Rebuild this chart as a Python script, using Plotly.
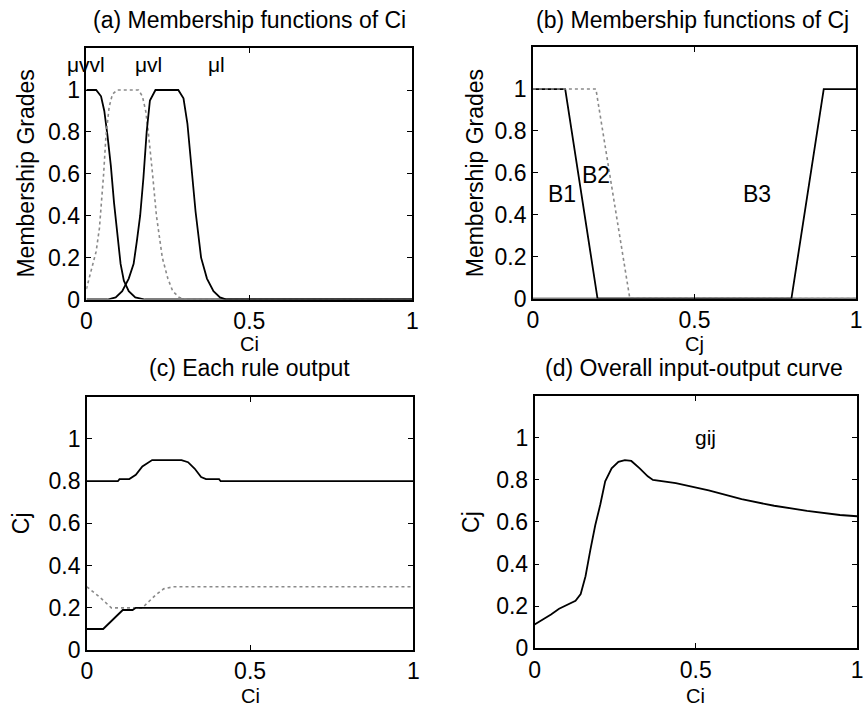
import plotly.graph_objects as go

# ---------------- data ----------------
# (a) membership functions of Ci
a_vvl_x = [0, 0.03, 0.045, 0.055, 0.065, 0.075, 0.085, 0.095, 0.105, 0.115, 0.13, 0.15, 0.18, 1.0]
a_vvl_y = [1, 1, 0.97, 0.9, 0.78, 0.64, 0.46, 0.3, 0.17, 0.09, 0.04, 0.01, 0, 0]
a_vl_x = [0, 0.01, 0.02, 0.03, 0.04, 0.047, 0.053, 0.06, 0.07, 0.08, 0.095,
          0.16, 0.172, 0.182, 0.19, 0.203, 0.215, 0.233, 0.25, 0.265, 0.285, 0.31, 1.0]
a_vl_y = [0.05, 0.11, 0.17, 0.23, 0.34, 0.46, 0.6, 0.78, 0.92, 0.98, 1,
          1, 0.97, 0.9, 0.8, 0.6, 0.4, 0.2, 0.1, 0.04, 0.01, 0, 0]
a_l_x = [0, 0.065, 0.09, 0.11, 0.13, 0.145, 0.155, 0.165, 0.175, 0.185, 0.195, 0.212,
         0.282, 0.298, 0.31, 0.322, 0.335, 0.352, 0.37, 0.39, 0.41, 0.43, 1.0]
a_l_y = [0, 0, 0.01, 0.04, 0.1, 0.17, 0.28, 0.4, 0.58, 0.8, 0.95, 1,
         1, 0.96, 0.84, 0.62, 0.42, 0.2, 0.1, 0.04, 0.01, 0, 0]
a_labels = ["μvvl", "μvl", "μl"]
a_label_x = [0.0, 0.19, 0.40]
a_label_y = [1.055, 1.055, 1.055]

# (b) membership functions of Cj
b1_x = [0, 0.1, 0.2, 1.0]
b1_y = [1, 1, 0, 0]
b2_x = [0, 0.195, 0.3, 1.0]
b2_y = [1, 1, 0, 0]
b3_x = [0, 0.8, 0.9, 1.0]
b3_y = [0, 0, 1, 1]
b_labels = ["B1", "B2", "B3"]
b_label_x = [0.089, 0.196, 0.695]
b_label_y = [0.5, 0.59, 0.5]

# (c) each rule output
c_top_x = [0, 0.095, 0.1, 0.13, 0.15, 0.17, 0.2, 0.29, 0.31, 0.33, 0.35, 0.365, 0.405, 0.41, 1.0]
c_top_y = [0.8, 0.8, 0.81, 0.81, 0.83, 0.87, 0.9, 0.9, 0.89, 0.86, 0.82, 0.81, 0.81, 0.8, 0.8]
c_mid_x = [0, 0.04, 0.075, 0.17, 0.19, 0.21, 0.235, 0.265, 1.0]
c_mid_y = [0.3, 0.25, 0.2, 0.2, 0.23, 0.26, 0.29, 0.3, 0.3]
c_bot_x = [0, 0.05, 0.11, 0.14, 0.15, 1.0]
c_bot_y = [0.1, 0.1, 0.19, 0.19, 0.2, 0.2]

# (d) overall input-output curve
d_x = [0, 0.02, 0.051, 0.076, 0.102, 0.127, 0.143, 0.158, 0.173, 0.188, 0.204, 0.219,
       0.239, 0.26, 0.28, 0.30, 0.326, 0.351, 0.367, 0.438, 0.54, 0.642, 0.743, 0.845,
       0.947, 1.0]
d_y = [0.112, 0.13, 0.16, 0.187, 0.205, 0.225, 0.257, 0.342, 0.467, 0.583, 0.684, 0.793,
       0.855, 0.886, 0.894, 0.89, 0.855, 0.817, 0.8, 0.785, 0.75, 0.708, 0.677, 0.653,
       0.633, 0.627]

x_ticks = [0, 0.5, 1]
x_tick_text = ["0", "0.5", "1"]
y_ticks = [0, 0.2, 0.4, 0.6, 0.8, 1]
y_tick_text = ["0", "0.2", "0.4", "0.6", "0.8", "1"]

titles = ["(a) Membership functions of Ci", "(b) Membership functions of Cj",
          "(c) Each rule output", "(d) Overall input-output curve"]
x_titles = ["Ci", "Cj", "Ci", "Ci"]
y_titles = ["Membership Grades", "Membership Grades", "Cj", "Cj"]

# ---------------- figure ----------------
W, H = 866, 723
FONT = "Liberation Sans, Arial, sans-serif"
BLACK = dict(color="black", width=1.8)
GRAY = dict(color="#8a8a8a", width=1.6, dash="dot")

fig = go.Figure()

def px_x(p):
    return p / W

def px_y(p):
    return 1 - p / H

# axes pixel boxes on the page: (left, right, top, bottom)
boxes = [(81.5, 412, 49, 305), (534.3, 862, 48, 304), (82, 413, 404, 662), (536, 863, 403, 660)]

traces = [
    [(a_vvl_x, a_vvl_y, BLACK), (a_vl_x, a_vl_y, GRAY), (a_l_x, a_l_y, BLACK)],
    [(b1_x, b1_y, BLACK), (b2_x, b2_y, GRAY), (b3_x, b3_y, BLACK)],
    [(c_top_x, c_top_y, BLACK), (c_mid_x, c_mid_y, GRAY), (c_bot_x, c_bot_y, BLACK)],
    [(d_x, d_y, BLACK)],
]

for i, (box, trs) in enumerate(zip(boxes, traces)):
    n = "" if i == 0 else str(i + 1)
    for (xs, ys, ln) in trs:
        fig.add_trace(go.Scatter(x=xs, y=ys, mode="lines", line=ln,
                                 xaxis="x" + n, yaxis="y" + n, showlegend=False,
                                 hoverinfo="skip", cliponaxis=False))
    l, r, t, b = box
    common = dict(showline=True, linecolor="black", linewidth=1.6, mirror="ticks",
                  ticks="inside", ticklen=5, tickwidth=1.4, tickcolor="black",
                  showgrid=False, zeroline=False, layer="below traces",
                  tickfont=dict(family=FONT, size=23, color="black"))
    fig.update_layout(**{
        "xaxis" + n: dict(domain=[px_x(l), px_x(r)], range=[0, 1], tickvals=x_ticks,
                          ticktext=x_tick_text, anchor="y" + n, **common),
        "yaxis" + n: dict(domain=[px_y(b), px_y(t)], range=[0, 1.2], tickvals=y_ticks,
                          ticktext=y_tick_text, anchor="x" + n, **common),
    })

# text labels inside panels
for txt, xv, yv in zip(a_labels, a_label_x, a_label_y):
    fig.add_annotation(x=xv, y=yv, xref="x", yref="y", text=txt, showarrow=False,
                       yanchor="bottom", font=dict(family=FONT, size=21, color="black"))
for txt, xv, yv in zip(b_labels, b_label_x, b_label_y):
    fig.add_annotation(x=xv, y=yv, xref="x2", yref="y2", text=txt, showarrow=False,
                       font=dict(family=FONT, size=23, color="black"))
fig.add_annotation(x=0.53, y=1.0, xref="x4", yref="y4", text="gij", showarrow=False,
                   font=dict(family=FONT, size=21, color="black"))

# titles and axis titles (page pixel centres)
title_pos = [(246.7, 20), (696, 20), (246.7, 375), (698, 375)]
xt_pos = [(246.7, 350), (698, 350), (247.5, 709), (699.5, 709)]
yt_pos = [(20, 177), (475, 176), (16, 533), (472, 531)]
for i in range(4):
    fig.add_annotation(x=px_x(title_pos[i][0]), y=px_y(title_pos[i][1]), xref="paper",
                       yref="paper", text=titles[i], showarrow=False, xanchor="center",
                       yanchor="middle", font=dict(family=FONT, size=23, color="black"))
    fig.add_annotation(x=px_x(xt_pos[i][0]), y=px_y(xt_pos[i][1]), xref="paper",
                       yref="paper", text=x_titles[i], showarrow=False, xanchor="center",
                       yanchor="middle", font=dict(family=FONT, size=20, color="black"))
    fig.add_annotation(x=px_x(yt_pos[i][0]), y=px_y(yt_pos[i][1]), xref="paper",
                       yref="paper", text=y_titles[i], showarrow=False, textangle=-90,
                       xanchor="center", yanchor="middle",
                       font=dict(family=FONT, size=23, color="black"))

fig.update_layout(width=W, height=H, margin=dict(l=0, r=0, t=0, b=0),
                  paper_bgcolor="white", plot_bgcolor="white")

fig.write_html("out.html", config={"displayModeBar": False},
               post_script="document.body.style.margin='0';"
                           "document.body.style.overflow='hidden';")
